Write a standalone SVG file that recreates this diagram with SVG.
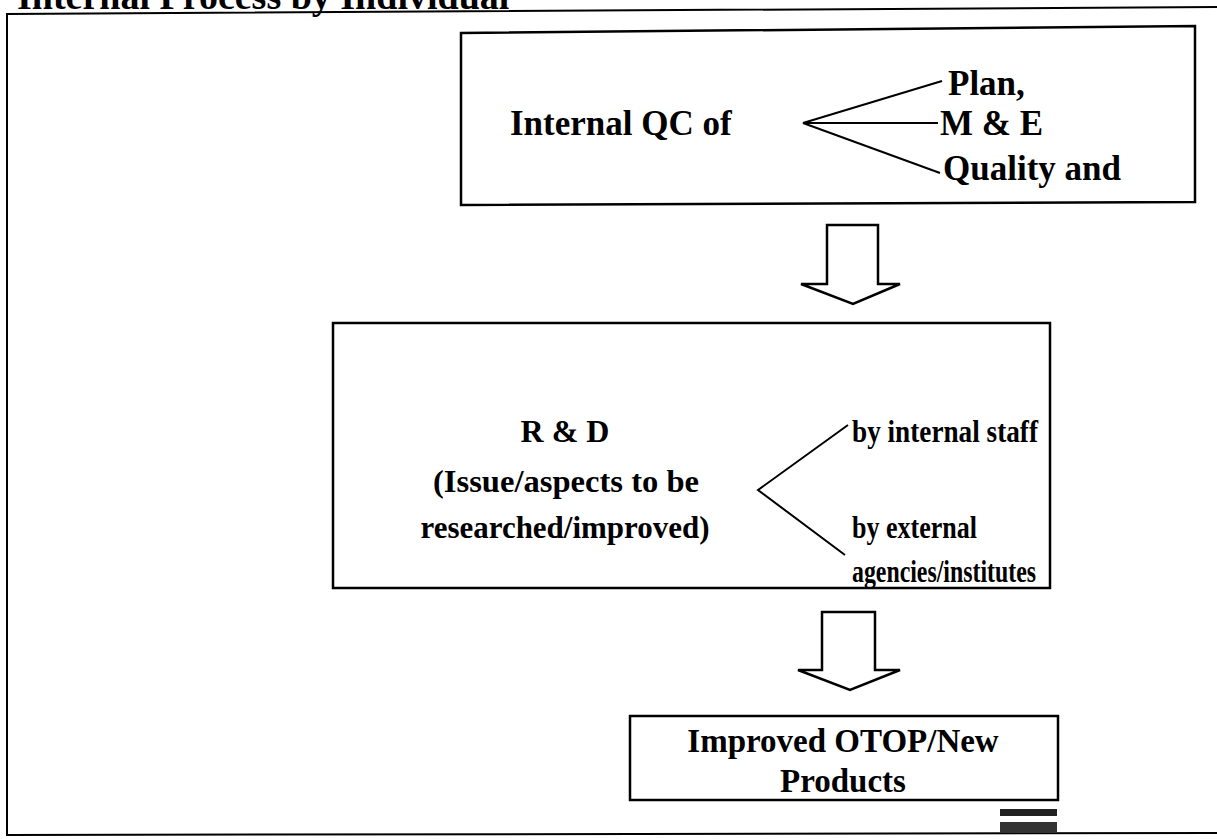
<svg xmlns="http://www.w3.org/2000/svg" width="1217" height="839" viewBox="0 0 1217 839">
<style>
  .t { font-family: "Liberation Serif", "Times New Roman", serif; font-weight: bold; fill: #000; }
  .box { fill: #fff; stroke: #000; stroke-width: 2.5; }
  .ln { stroke: #000; stroke-width: 2; fill: none; }
  .arrow { fill: #fff; stroke: #000; stroke-width: 2.5; stroke-linejoin: miter; }
</style>
<rect x="0" y="0" width="1217" height="839" fill="#fff"/>
<text class="t" x="17" y="9" font-size="38">Internal Process by Individual</text>
<g id="frame">
  <polyline class="ln" points="1217,7 7,14 7,835 1217,833" stroke-width="2.5"/>
</g>
<g id="node-qc">
  <polygon class="box" points="461,33 1195,26 1195,202 461,205"/>
  <text class="t" x="510" y="135" font-size="35">Internal QC of</text>
  <text class="t" x="948" y="95" font-size="35">Plan,</text>
  <text class="t" x="940" y="135" font-size="35">M &amp; E</text>
  <text class="t" x="943" y="180" font-size="35">Quality and</text>
  <polyline class="ln" points="942,81 803,123 938,123"/>
  <line class="ln" x1="803" y1="123" x2="940" y2="173"/>
</g>
<g id="node-rd">
  <rect class="box" x="333" y="323" width="717" height="265"/>
  <text class="t" x="565" y="442" font-size="32" text-anchor="middle">R &amp; D</text>
  <text class="t" x="566" y="492" font-size="32" text-anchor="middle" textLength="266" lengthAdjust="spacingAndGlyphs">(Issue/aspects to be</text>
  <text class="t" x="565" y="538" font-size="32" text-anchor="middle" textLength="289" lengthAdjust="spacingAndGlyphs">researched/improved)</text>
  <text class="t" x="852" y="442" font-size="32" textLength="186" lengthAdjust="spacingAndGlyphs">by internal staff</text>
  <text class="t" x="852" y="538" font-size="32" textLength="125" lengthAdjust="spacingAndGlyphs">by external</text>
  <text class="t" x="852" y="582" font-size="32" textLength="184" lengthAdjust="spacingAndGlyphs">agencies/institutes</text>
  <polyline class="ln" points="848,425 758,490 845,555"/>
</g>
<g id="node-products">
  <rect class="box" x="630" y="716" width="428" height="84"/>
  <text class="t" x="843" y="752" font-size="33" text-anchor="middle">Improved OTOP/New</text>
  <text class="t" x="843" y="792" font-size="33" text-anchor="middle">Products</text>
</g>
<g id="connectors">
  <polygon class="arrow" points="827,225 878,225 878,284 900,284 853,304 801,284 827,284"/>
  <polygon class="arrow" points="822,612 875,612 875,670 900,670 850,690 798,670 822,670"/>
</g>
<g id="marks">
  <rect x="1000" y="809" width="57" height="7" fill="#222"/>
  <rect x="1000" y="822" width="57" height="11" fill="#333"/>
</g>
</svg>
